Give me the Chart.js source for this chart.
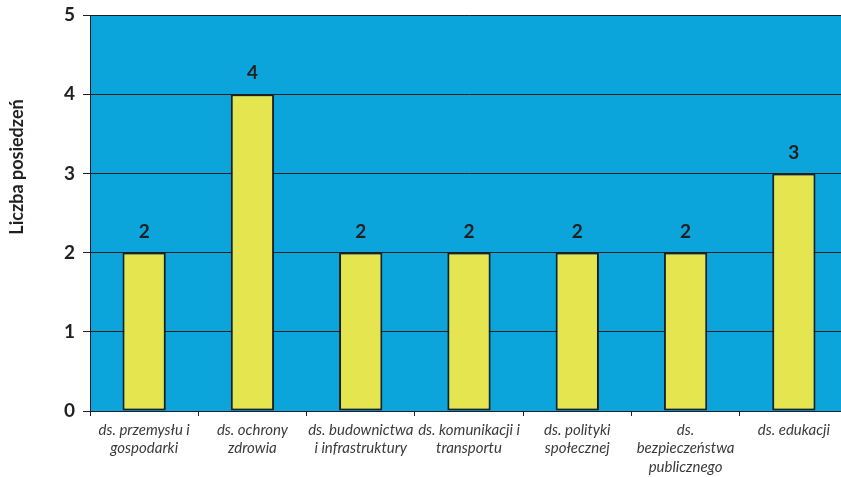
<!DOCTYPE html>
<html>
<head>
<meta charset="utf-8">
<script src="https://cdn.jsdelivr.net/npm/chart.js@4"></script>
<style>
    html, body { margin: 0; padding: 0; background: #ffffff; overflow: hidden; }
    #wrap { width: 848px; height: 477px; position: relative; }
</style>
</head>
<body>
<div id="wrap"><canvas id="meetings-chart"></canvas></div>
<script>
// Committees (categories)
const committees = [
    ['ds. przemysłu i', 'gospodarki'],
    ['ds. ochrony', 'zdrowia'],
    ['ds. budownictwa', 'i infrastruktury'],
    ['ds. komunikacji i', 'transportu'],
    ['ds. polityki', 'społecznej'],
    ['ds.', 'bezpieczeństwa', 'publicznego'],
    ['ds. edukacji']
];

// Number of meetings per committee
const meetingCounts = [2, 4, 2, 2, 2, 2, 3];

// Y axis range
const yMin = 0;
const yMax = 5;
const yTitle = 'Liczba posiedzeń';

// Paint the plot area blue
const plotBackground = {
    id: 'plotBackground',
    beforeDraw(chart) {
        const { ctx, chartArea } = chart;
        ctx.save();
        ctx.fillStyle = '#0ba5dc';
        ctx.fillRect(chartArea.left, chartArea.top, chartArea.right - chartArea.left, chartArea.bottom - chartArea.top);
        ctx.restore();
    }
};

// Values above bars + rotated y axis title
const barValues = {
    id: 'barValues',
    afterDatasetsDraw(chart) {
        const { ctx } = chart;
        const meta = chart.getDatasetMeta(0);
        ctx.save();
        ctx.font = 'bold 19px Lato, "Open Sans", sans-serif';
        ctx.fillStyle = '#231f20';
        ctx.textAlign = 'center';
        ctx.textBaseline = 'middle';
        meta.data.forEach((bar, i) => {
            ctx.fillText(String(meetingCounts[i]), bar.x, bar.y - 21);
        });

        // y title sits a bit above the middle of the plot, as in the original
        ctx.translate(17, 167);
        ctx.rotate(-Math.PI / 2);
        ctx.font = 'bold 18px Lato, "Open Sans", sans-serif';
        ctx.fillText(yTitle, 0, 0);
        ctx.restore();
    }
};

function initChart() {
    const ctx = document.getElementById('meetings-chart').getContext('2d');

    new Chart(ctx, {
        type: 'bar',
        data: {
            labels: committees,
            datasets: [
                {
                    label: yTitle,
                    data: meetingCounts,
                    backgroundColor: '#e5e64f',
                    borderColor: '#231f20',
                    borderWidth: 2,
                    borderSkipped: false,
                    categoryPercentage: 0.4,
                    barPercentage: 1.0
                }
            ]
        },
        options: {
            responsive: true,
            maintainAspectRatio: false,
            animation: false,
            layout: {
                padding: { top: 15, right: 0, left: 0, bottom: 0 }
            },
            plugins: {
                legend: { display: false },
                tooltip: { enabled: false }
            },
            scales: {
                x: {
                    offset: true,
                    grid: {
                        display: true,
                        offset: true,
                        drawOnChartArea: false,
                        drawTicks: true,
                        tickLength: 5,
                        color: '#231f20'
                    },
                    border: { display: true, color: '#231f20', width: 1 },
                    ticks: {
                        color: '#3a3a3a',
                        font: { family: 'Lato, "Open Sans", sans-serif', size: 15, style: 'italic', lineHeight: 1.22 },
                        maxRotation: 0,
                        autoSkip: false,
                        padding: 5
                    },
                    afterFit(scale) {
                        scale.height = 66;
                        scale.paddingLeft = 0;
                        scale.paddingRight = 0;
                    }
                },
                y: {
                    min: yMin,
                    max: yMax,
                    grid: {
                        color: '#231f20',
                        lineWidth: 1,
                        drawTicks: true,
                        tickLength: 7
                    },
                    border: { display: true, color: '#231f20', width: 1 },
                    ticks: {
                        stepSize: 1,
                        color: '#231f20',
                        font: { family: 'Lato, "Open Sans", sans-serif', size: 19, weight: 'bold' },
                        padding: 8
                    },
                    afterFit(scale) {
                        scale.width = 90;
                        scale.paddingTop = 0;
                        scale.paddingBottom = 0;
                    }
                }
            }
        },
        plugins: [plotBackground, barValues]
    });
}

initChart();
</script>
</body>
</html>
